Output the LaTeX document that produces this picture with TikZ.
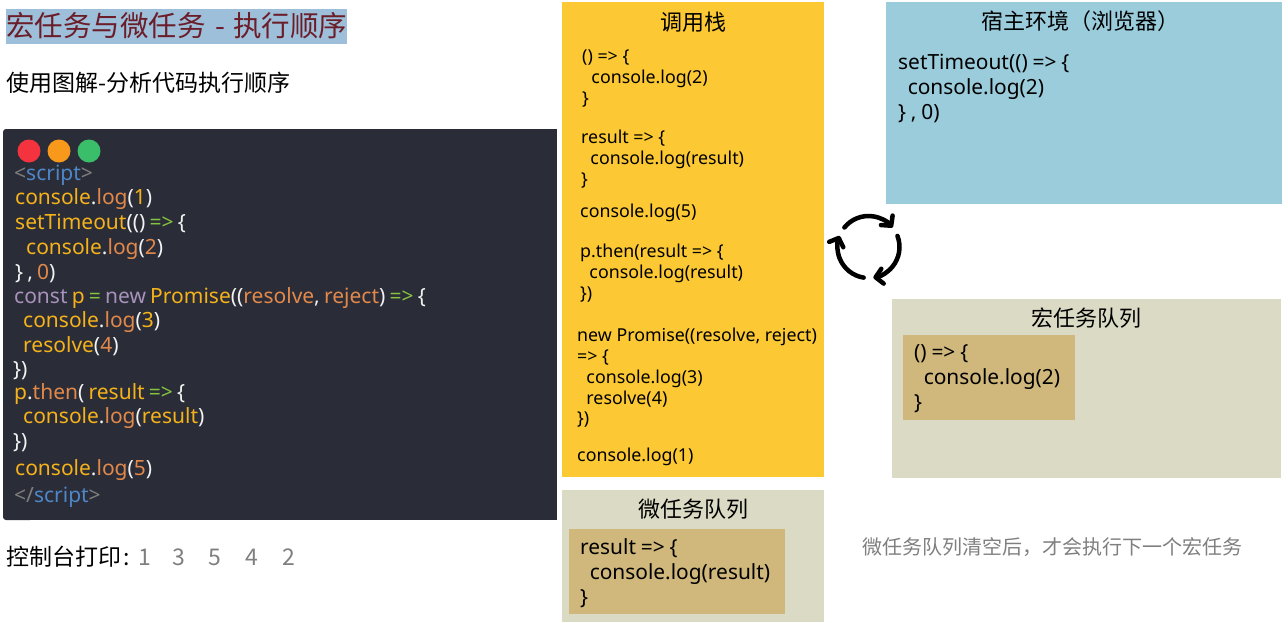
\documentclass[tikz,border=0pt]{standalone}
\usepackage{fontspec}
\setmainfont{Noto Sans}
\newfontfamily\cjk{Noto Sans CJK SC}
\usepackage{xcolor}
\usetikzlibrary{arrows.meta}
\definecolor{jsdark}{HTML}{2A2D37}
\definecolor{jsyellow}{HTML}{F5B21B}
\definecolor{jsorange}{HTML}{E2884A}
\definecolor{jswhite}{HTML}{F2F2F2}
\definecolor{jspurple}{HTML}{A892BC}
\definecolor{jsgreen}{HTML}{86C440}
\definecolor{jsblue}{HTML}{4F86C8}
\definecolor{jsgrey}{HTML}{7F7F7F}
\definecolor{qstack}{HTML}{FCC934}
\definecolor{qhost}{HTML}{9ACCDC}
\definecolor{qpanel}{HTML}{DBDAC4}
\definecolor{qchip}{HTML}{D0B87C}
\definecolor{qtitlebg}{HTML}{9DBFD9}
\definecolor{qtitle}{HTML}{6B1E2A}
\newcommand{\jslinefont}{\fontsize{21}{24}\selectfont\spaceskip=4.2pt\relax}
\newcommand{\qcodefont}{\fontsize{20.9}{25}\selectfont\spaceskip=4.8pt\relax}
\tikzset{
  qbox/.style    ={rectangle, anchor=north west, inner sep=0pt, outer sep=0pt},
  qhead/.style   ={anchor=center, font=\cjk\fontsize{22}{26}\selectfont, text=black},
  qcode/.style   ={anchor=north west, inner sep=0pt, align=left, text=black,
                   font=\qcodefont},
  qstk/.style    ={anchor=north west, inner sep=0pt, align=left, text=black,
                   font=\fontsize{17.8}{20.8}\selectfont},
  jsline/.style  ={anchor=base west, inner sep=0pt, text=jswhite,
                   font=\jslinefont},
  jsdot/.style   ={circle, minimum size=23pt, inner sep=0pt},
  qprint/.style  ={anchor=base west, inner sep=0pt, font=\cjk\fontsize{23}{27}\selectfont},
  looparc/.style ={line width=4.5pt, line cap=round,
                   -{Straight Barb[length=7pt,width=15pt,round]}},
}
\newcommand{\jsy}[1]{\textcolor{jsyellow}{#1}}
\newcommand{\jso}[1]{\textcolor{jsorange}{#1}}
\newcommand{\jsg}[1]{\textcolor{jsgreen}{#1}}
\newcommand{\jsp}[1]{\textcolor{jspurple}{#1}}
\newcommand{\jsb}[1]{\textcolor{jsblue}{#1}}
\newcommand{\jsk}[1]{\textcolor{jsgrey}{#1}}
\begin{document}
\begin{tikzpicture}[x=1pt,y=-1pt]
  \useasboundingbox (0,0) rectangle (1288,622);
  % left column
  \node[qbox, fill=qtitlebg, minimum width=341pt, minimum height=35pt] (titlebg) at (6,9) {};
  \node[anchor=west, inner sep=0pt, text=qtitle, font=\cjk\fontsize{28.5}{32}\selectfont]
       (title) at (6,26) {宏任务与微任务\hspace{3pt} - \hspace{2pt}执行顺序};
  \node[qprint] (sub) at (6,91) {使用图解-分析代码执行顺序};
  \node[qbox, fill=jsdark, minimum width=30pt, minimum height=391pt, rounded corners=3pt] (editorl) at (3,129) {};
  \node[qbox, fill=jsdark, minimum width=544pt, minimum height=391pt] (editor) at (13,129) {};
  \node[jsdot, fill={rgb,255:red,245;green,51;blue,63}] (dotr) at (29,151) {};
  \node[jsdot, fill={rgb,255:red,249;green,153;blue,28}] (doto) at (59,151) {};
  \node[jsdot, fill={rgb,255:red,58;green,190;blue,106}] (dotg) at (89,151) {};
  \node[jsline] (l1) at (14,180) {\jsk{<}\jsb{script}\jsk{>}};
  \node[jsline] (l2) at (15,204) {\jsy{console}.\jso{log}(\jsy{1})};
  \node[jsline] (l3) at (15,229) {\jsy{setTimeout}(() \jsg{=>} \{};
  \node[jsline] (l4) at (26,254) {\jsy{console}.\jso{log}(\jso{2})};
  \node[jsline] (l5) at (15,279) {\} , \jso{0})};
  \node[jsline] (l6) at (14,303) {\jsp{const} \jsy{p} \jsg{=} \jsp{new} \jsy{Promise}((\jso{resolve}, \jso{reject}) \jsg{=>} \{};
  \node[jsline] (l7) at (23,327) {\jsy{console}.\jso{log}(\jsy{3})};
  \node[jsline] (l8) at (23,352) {\jsy{resolve}(\jso{4})};
  \node[jsline] (l9) at (13,376) {\})};
  \node[jsline] (l10) at (14,399) {\jsy{p}.\jso{then}( \jsy{result} \jsg{=>} \{};
  \node[jsline] (l11) at (23,423) {\jsy{console}.\jso{log}(\jsy{result})};
  \node[jsline] (l12) at (13,448) {\})};
  \node[jsline] (l13) at (15,475) {\jsy{console}.\jso{log}(\jso{5})};
  \node[jsline] (l14) at (14,502) {\jsk{</}\jsb{script}\jsk{>}};
  \node[qprint] (print) at (6,565) {控制台打印\hspace{2pt}:};
  \foreach \x/\n in {138/1,172/3,208/5,245/4,282/2}{
    \node[qprint, text=jsgrey] (out\n) at (\x,565) {\n};}
  % call stack
  \node[qbox, fill=qstack, minimum width=262pt, minimum height=475pt] (stack) at (562,2) {};
  \node[qhead] (stacktitle) at (693,22) {调用栈};
  \node[qstk] (s1) at (582,50) {() => \{\\\ \ console.log(2)\\\}};
  \node[qstk] (s2) at (581,130) {result => \{\\\ \ console.log(result)\\\}};
  \node[qstk] (s3) at (580,204) {console.log(5)};
  \node[qstk] (s4) at (580,244) {p.then(result => \{\\\ \ console.log(result)\\\})};
  \node[qstk] (s5) at (577,328) {new Promise((resolve, reject)\\=> \{\\\ \ console.log(3)\\\ \ resolve(4)\\\})};
  \node[qstk] (s6) at (577,448) {console.log(1)};
  % micro queue
  \node[qbox, fill=qpanel, minimum width=262pt, minimum height=132pt] (micro) at (562,490) {};
  \node[qhead] (microtitle) at (693,509) {微任务队列};
  \node[qbox, fill=qchip, minimum width=216pt, minimum height=85pt] (microchip) at (569,529) {};
  \node[qcode] (microcode) at (580,538) {result => \{\\\ \ console.log(result)\\\}};
  % host
  \node[qbox, fill=qhost, minimum width=396pt, minimum height=202pt] (host) at (886,2) {};
  \node[qhead] (hosttitle) at (1080,21) {宿主环境（浏览器）};
  \node[qcode] (hostcode) at (898,54) {setTimeout(() => \{\\\ \ console.log(2)\\\} , 0)};
  % macro queue
  \node[qbox, fill=qpanel, minimum width=389pt, minimum height=179pt] (macro) at (892,299) {};
  \node[qhead] (macrotitle) at (1086,318) {宏任务队列};
  \node[qbox, fill=qchip, minimum width=172pt, minimum height=85pt] (macrochip) at (903,335) {};
  \node[qcode] (macrocode) at (914,344) {() => \{\\\ \ console.log(2)\\\}};
  \node[anchor=west, inner sep=0pt, text=jsgrey, font=\cjk\fontsize{20}{24}\selectfont]
       (note) at (862,547) {微任务队列清空后，才会执行下一个宏任务};
  % event loop
  \begin{scope}[shift={(868.5,247)},x=1pt,y=1pt]
    \foreach \a in {0,120,240}{
      \draw[looparc, rotate=-\a] (141:31) arc[start angle=141,end angle=39,radius=31pt];}
  \end{scope}
\end{tikzpicture}
\end{document}
